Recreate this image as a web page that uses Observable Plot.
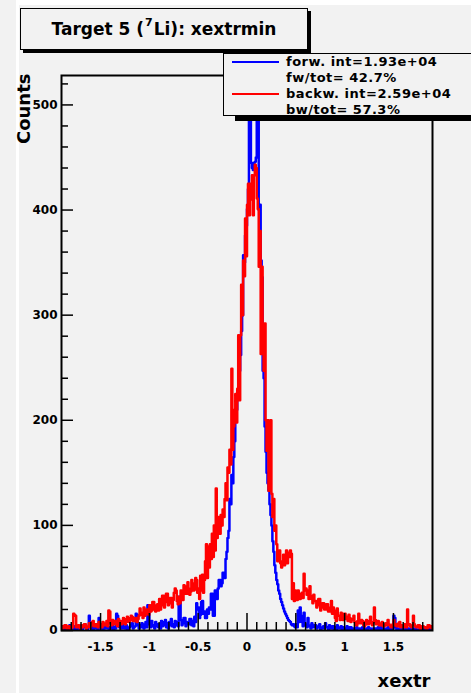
<!DOCTYPE html>
<html>
<head>
<meta charset="utf-8">
<script src="https://cdn.jsdelivr.net/npm/d3@7"></script>
<script src="https://cdn.jsdelivr.net/npm/@observablehq/plot@0.6"></script>
<style>
html,body{margin:0;padding:0;background:#f2f2f2;}
#wrap{position:relative;width:471px;height:693px;overflow:hidden;font-family:"DejaVu Sans",sans-serif;}
#border{position:absolute;left:16px;top:0;width:470px;height:700px;border-left:3px solid #fff;border-top:5px solid #fff;box-sizing:border-box;}
#chart{position:absolute;left:0;top:0;}
#title{position:absolute;left:20px;top:8px;width:288px;height:42px;border:1.5px solid #000;box-sizing:border-box;background:#f2f2f2;box-shadow:3px 3px 0 #000;font-weight:bold;font-size:17px;display:flex;align-items:center;justify-content:center;white-space:nowrap;}
#title .sup{font-size:11px;position:relative;top:-7px;margin:0 1px;}
#legend{position:absolute;left:223px;top:53px;width:270px;height:63px;border:1px solid #000;box-sizing:border-box;background:#f2f2f2;box-shadow:12px 5px 0 #000;}
.lt{position:absolute;left:62px;font-size:13px;letter-spacing:0.5px;font-weight:bold;line-height:13px;height:13px;white-space:nowrap;}
.sw{position:absolute;left:8px;width:47px;height:2px;}
</style>
</head>
<body>
<div id="wrap">
  <div id="border"></div>
  <div id="chart"></div>
  <div id="title"><span>Target 5 (</span><span class="sup">7</span><span>Li): xextrmin</span></div>
  <div id="legend"></div>
</div>
<script>
// ---- data (bins of 0.01 from -1.9 to 1.9) ----
const binStart = -1.9;
const binWidth = 0.01;
const forw = [
  2,4,1,3,0,2,3,1,5,2,1,3,4,0,2,1,3,2,4,1,
  2,1,3,5,4,2,1,3,14,3,2,4,1,3,6,2,3,1,12,4,
  4,2,1,3,2,5,6,2,3,1,2,4,5,1,3,2,16,14,5,3,
  4,2,6,3,2,4,5,1,2,3,4,6,7,2,3,4,16,15,5,2,
  5,3,7,4,2,6,8,3,24,22,6,3,9,4,5,2,8,4,6,3,
  6,2,9,4,5,8,10,3,7,2,8,5,11,4,6,3,9,5,8,4,
  32,28,10,5,7,12,12,4,8,6,6,11,11,5,9,4,13,8,26,20,
  22,12,15,27,28,16,18,12,12,20,16,22,20,35,35,14,14,38,38,30,
  40,48,48,42,45,55,55,50,68,75,88,95,125,120,148,140,165,180,200,210,
  220,232,247,262,285,300,357,350,376,385,401,420,515,512,445,440,438,445,446,450,
  512,510,400,405,352,336,247,240,194,170,150,140,133,120,110,100,85,75,62,55,
  48,44,38,35,30,27,24,21,18,16,14,12,10,9,8,6,5,6,4,3,
  6,3,19,8,22,14,8,4,17,6,5,3,12,5,4,2,7,3,3,5,
  5,2,3,4,6,1,2,3,4,2,7,3,3,1,5,2,2,4,4,1,
  3,1,5,2,2,3,4,1,3,2,2,1,4,2,1,3,3,1,2,2,
  2,1,3,2,1,2,2,0,3,1,1,2,2,1,3,2,2,1,1,2,
  1,2,2,1,3,1,2,3,1,2,2,1,1,2,3,1,2,1,1,2,
  14,12,3,1,2,1,1,2,2,1,1,2,2,0,1,2,1,1,2,1,
  1,2,2,1,1,0,1,2,2,1,1,2,1,0,2,1,1,2,1,1
];
const backw = [
  4,2,3,5,5,2,2,4,3,1,4,3,16,15,14,3,3,5,4,2,
  5,3,4,6,6,2,3,4,7,3,5,8,9,4,4,6,6,3,8,5,
  6,3,8,5,5,7,9,4,19,18,7,5,10,6,6,9,8,4,11,7,
  9,6,7,12,11,6,8,13,12,8,10,14,13,9,9,12,12,8,11,14,
  21,15,17,12,22,14,16,20,20,15,24,18,19,27,27,20,18,24,25,19,
  30,20,24,33,33,22,27,35,35,24,26,31,31,22,29,36,40,38,28,25,
  32,26,38,30,29,43,42,35,35,46,40,34,37,48,45,38,39,50,48,36,
  40,30,52,38,53,36,48,66,82,50,80,60,82,68,92,70,100,76,135,88,
  96,108,92,110,100,115,108,125,140,124,155,150,172,158,249,172,194,210,225,198,
  230,281,219,281,329,300,352,337,392,356,405,425,395,425,410,433,395,433,443,440,
  411,401,346,380,263,346,292,247,292,200,171,200,133,170,200,130,108,125,95,100,
  82,66,70,76,64,60,66,72,62,70,76,64,74,70,76,73,30,45,28,38,
  32,29,38,30,30,35,36,31,54,38,40,34,38,30,42,33,30,26,34,28,
  28,22,24,30,30,19,22,26,26,20,20,25,25,18,18,22,28,16,22,19,
  12,9,21,14,14,10,17,12,10,16,16,11,13,9,15,12,8,10,11,14,
  8,5,5,9,16,7,7,10,9,5,4,8,10,6,6,9,13,7,5,8,
  22,10,6,9,9,5,5,7,8,4,4,6,7,5,10,6,5,3,3,6,
  10,5,6,4,4,7,8,3,5,4,3,6,4,3,20,5,6,4,3,5,
  14,6,4,3,3,5,5,2,2,4,4,3,3,2,2,5,5,3,4,2
];
const xDomain = [-1.9, 1.9];
const yDomain = [0, 528];
const xMajor = [-1.5, -1, -0.5, 0, 0.5, 1, 1.5];
const xMinor = [-1.8,-1.7,-1.6,-1.4,-1.3,-1.2,-1.1,-0.9,-0.8,-0.7,-0.6,-0.4,-0.3,-0.2,-0.1,
                0.1,0.2,0.3,0.4,0.6,0.7,0.8,0.9,1.1,1.2,1.3,1.4,1.6,1.7,1.8];
const yMajor = [0, 100, 200, 300, 400, 500];
const yMinor = [20,40,60,80,120,140,160,180,220,240,260,280,320,340,360,380,420,440,460,480,520];
const seriesColors = ["#0000ff", "#ff0000"];
const legendLines = ["forw. int=1.93e+04", "fw/tot= 42.7%", "backw. int=2.59e+04", "bw/tot= 57.3%"];
const xTitle = "xextr";
const yTitle = "Counts";

// ---- build step tables ----
function steps(values) {
  const pts = values.map((v, i) => ({x: binStart + i * binWidth, y: v}));
  pts.push({x: binStart + values.length * binWidth, y: values[values.length - 1]});
  return pts;
}
const forwSteps = steps(forw);
const backwSteps = steps(backw);

const W = 471, H = 693;
const mL = 61, mR = 39, mT = 75, mB = 63;
const plotW = W - mL - mR, plotH = H - mT - mB;

const chart = Plot.plot({
  width: W, height: H,
  marginLeft: mL, marginRight: mR, marginTop: mT, marginBottom: mB,
  style: {background: "transparent", fontFamily: "DejaVu Sans, sans-serif", fontWeight: "bold", fontSize: "12px", color: "#000"},
  x: {domain: xDomain},
  y: {domain: yDomain},
  marks: [
    Plot.line(forwSteps, {x: "x", y: "y", curve: "step-after", stroke: seriesColors[0], strokeWidth: 2.5, clip: true}),
    Plot.line(backwSteps, {x: "x", y: "y", curve: "step-after", stroke: seriesColors[1], strokeWidth: 2.5, clip: true}),
    Plot.ruleY(yMajor, {y: d => d, insetRight: plotW - 12, stroke: "#000", strokeWidth: 1.5}),
    Plot.ruleY(yMinor, {y: d => d, insetRight: plotW - 7, stroke: "#000", strokeWidth: 1.5}),
    Plot.ruleX(xMajor, {x: d => d, insetTop: plotH - 17, stroke: "#000", strokeWidth: 1.5}),
    Plot.ruleX(xMinor, {x: d => d, insetTop: plotH - 8, stroke: "#000", strokeWidth: 1.5}),
    Plot.frame({stroke: "#000", strokeWidth: 2}),
    Plot.axisX(xMajor, {tickSize: 0, tickPadding: 12, tickFormat: d => String(d), fontSize: 12, fontWeight: "bold", label: null}),
    Plot.axisY(yMajor, {tickSize: 0, tickPadding: 4, tickFormat: d => String(d), fontSize: 12, fontWeight: "bold", label: null}),
    Plot.text([yTitle], {frameAnchor: "top-left", text: d => d, rotate: -90, textAnchor: "end", dx: -44, dy: -2, fontSize: 18, fontWeight: "bold"}),
    Plot.text([xTitle], {frameAnchor: "bottom-right", text: d => d, textAnchor: "end", dx: -2, dy: 56, fontSize: 18, fontWeight: "bold"})
  ]
});
document.getElementById("chart").appendChild(chart);

// ---- legend ----
const leg = document.getElementById("legend");
const rowCenters = [8, 24, 40, 56];
legendLines.forEach((t, i) => {
  const d = document.createElement("div");
  d.className = "lt";
  d.style.top = (rowCenters[i] - 7) + "px";
  d.textContent = t;
  leg.appendChild(d);
});
[0, 2].forEach((row, j) => {
  const s = document.createElement("div");
  s.className = "sw";
  s.style.top = (rowCenters[row] - 1) + "px";
  s.style.background = seriesColors[j];
  leg.appendChild(s);
});
</script>
</body>
</html>
